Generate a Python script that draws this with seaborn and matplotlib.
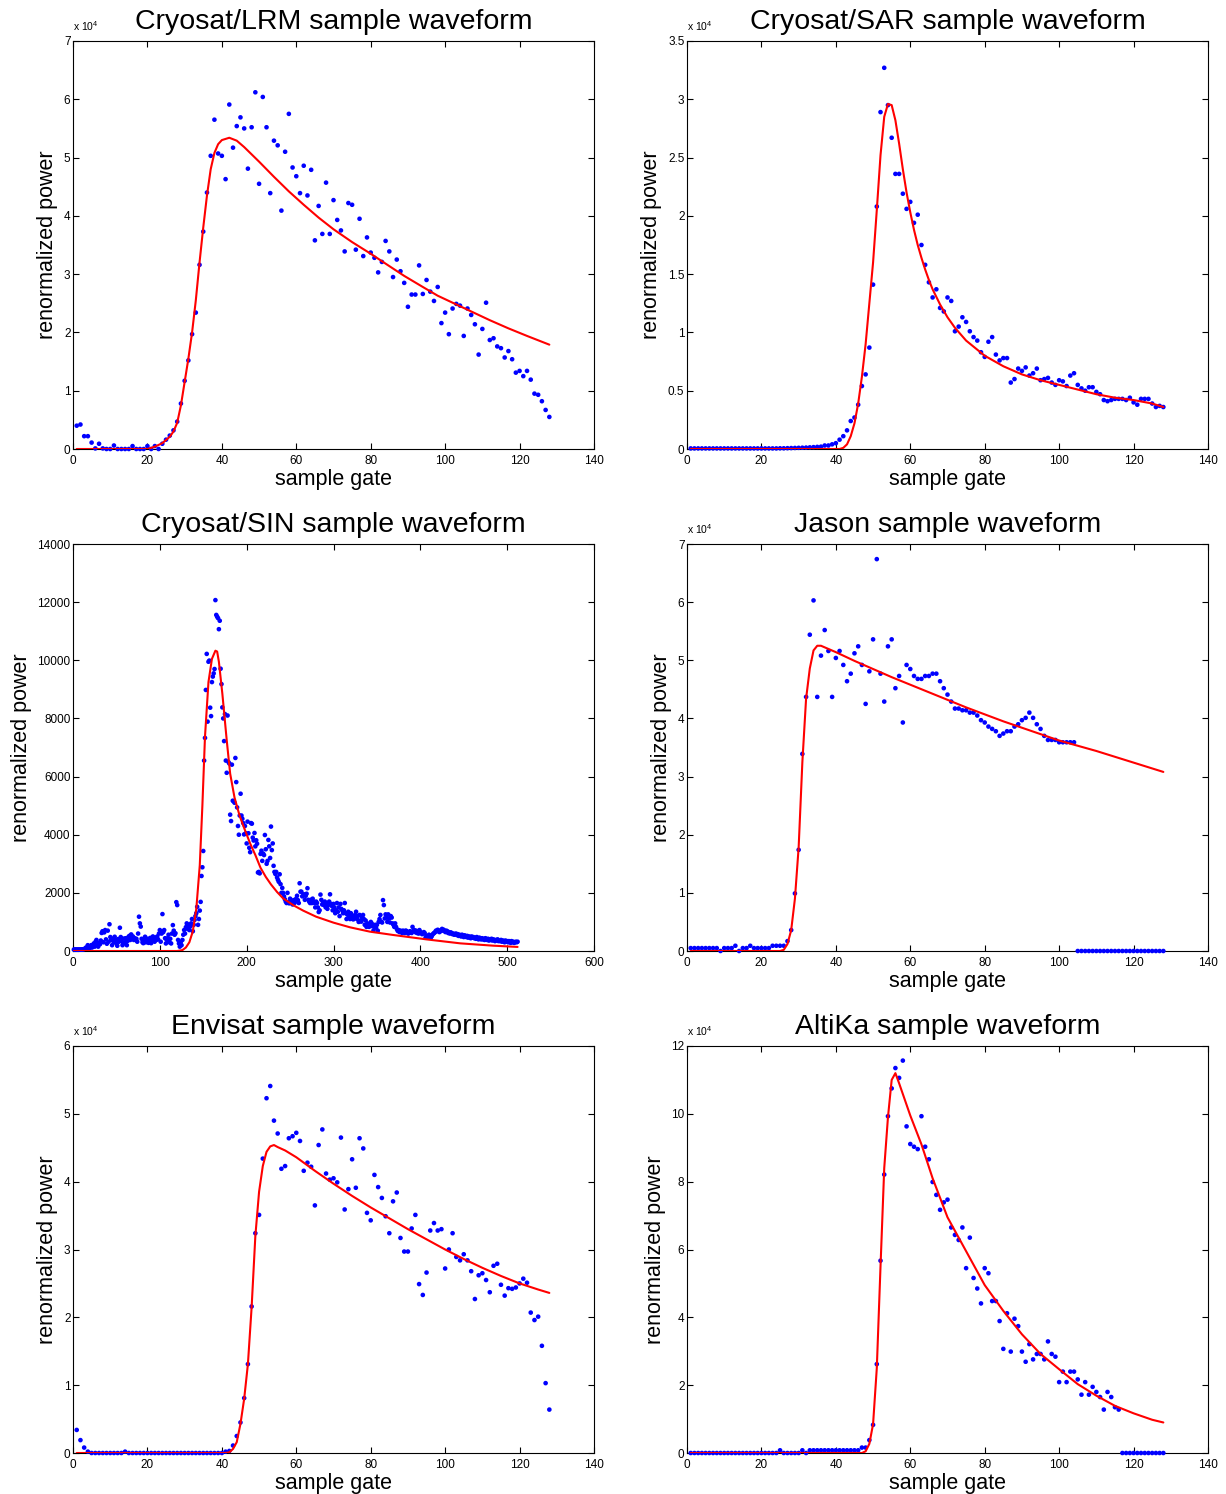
import numpy as np
import pandas as pd
import matplotlib
matplotlib.use("Agg")
import matplotlib.pyplot as plt
import seaborn as sns

# ---------------- data ----------------
gates_128 = list(range(1, 129))
gates_512 = list(range(1, 513))

# Cryosat/LRM (units of 1e4)
lrm_power = [
    0.40, 0.42, 0.22, 0.22, 0.11, 0.01, 0.09, 0.01, 0.00, 0.00, 0.06, 0.00, 0.00, 0.00, 0.00, 0.05,
    0.00, 0.00, 0.00, 0.05, 0.00, 0.05, 0.00, 0.09, 0.16, 0.23, 0.32, 0.47, 0.78, 1.17, 1.52, 1.97,
    2.34, 3.16, 3.73, 4.40, 5.03, 5.65, 5.07, 5.03, 4.63, 5.91, 5.17, 5.54, 5.69, 5.50, 4.81, 5.52,
    6.12, 4.55, 6.04, 5.52, 4.39, 5.29, 5.21, 4.09, 5.10, 5.75, 4.83, 4.68, 4.39, 4.86, 4.35, 4.79,
    3.58, 4.17, 3.69, 4.57, 3.69, 4.27, 3.93, 3.75, 3.39, 4.22, 4.19, 3.42, 3.95, 3.31, 3.63, 3.37,
    3.28, 3.03, 3.21, 3.57, 3.39, 2.95, 3.25, 3.05, 2.85, 2.44, 2.65, 2.65, 3.15, 2.66, 2.90, 2.70,
    2.54, 2.78, 2.16, 2.34, 1.97, 2.41, 2.49, 2.46, 1.94, 2.41, 2.30, 2.14, 1.62, 2.06, 2.51, 1.87,
    1.90, 1.76, 1.73, 1.57, 1.68, 1.54, 1.31, 1.34, 1.25, 1.34, 1.19, 0.95, 0.93, 0.82, 0.67, 0.55]
lrm_fit_gates = [1, 20, 22, 24, 26, 27, 28, 29, 30, 31, 32, 33, 34, 35, 36, 37, 38, 39, 40, 42,
                 44, 46, 50, 54, 58, 62, 66, 70, 75, 80, 84, 89, 94, 98, 103, 108, 112, 117, 122, 128]
lrm_fit_power = [0, 0, 0.04, 0.10, 0.21, 0.30, 0.45, 0.75, 1.15, 1.55, 2.00, 2.55, 3.20, 3.80, 4.35,
                 4.80, 5.08, 5.23, 5.30, 5.34, 5.29, 5.18, 4.93, 4.67, 4.42, 4.19, 3.97, 3.77, 3.55,
                 3.35, 3.18, 2.97, 2.78, 2.63, 2.48, 2.33, 2.21, 2.07, 1.94, 1.79]

# Cryosat/SAR (units of 1e4)
sar_power = [
    0.005, 0.005, 0.005, 0.005, 0.005, 0.005, 0.005, 0.005, 0.005, 0.005, 0.005, 0.005, 0.005, 0.005, 0.005, 0.005,
    0.005, 0.005, 0.005, 0.005, 0.005, 0.005, 0.005, 0.005, 0.006, 0.006, 0.007, 0.008, 0.009, 0.010, 0.011, 0.012,
    0.014, 0.016, 0.018, 0.02, 0.03, 0.03, 0.04, 0.05, 0.08, 0.11, 0.16, 0.24, 0.27, 0.38, 0.54, 0.64,
    0.87, 1.41, 2.08, 2.89, 3.27, 2.95, 2.67, 2.36, 2.36, 2.19, 2.06, 2.12, 1.94, 2.01, 1.75, 1.58,
    1.43, 1.30, 1.37, 1.21, 1.18, 1.30, 1.27, 1.01, 1.05, 1.13, 1.09, 1.01, 0.96, 0.93, 0.83, 0.79,
    0.92, 0.96, 0.81, 0.76, 0.78, 0.78, 0.57, 0.60, 0.69, 0.67, 0.70, 0.63, 0.65, 0.69, 0.59, 0.60,
    0.61, 0.57, 0.55, 0.59, 0.58, 0.54, 0.63, 0.65, 0.55, 0.52, 0.50, 0.53, 0.53, 0.49, 0.47, 0.42,
    0.41, 0.42, 0.43, 0.43, 0.43, 0.42, 0.44, 0.40, 0.38, 0.43, 0.43, 0.43, 0.39, 0.36, 0.37, 0.36]
sar_fit_gates = [1, 41, 42, 43, 44, 45, 46, 47, 48, 49, 50, 51, 52, 53, 54, 55, 56, 57, 58, 59, 60,
                 61, 62, 63, 64, 65, 66, 68, 70, 72, 75, 80, 85, 90, 95, 100, 105, 110, 115, 120, 125, 128]
sar_fit_power = [0, 0, 0.01, 0.04, 0.11, 0.22, 0.39, 0.62, 0.90, 1.25, 1.60, 2.05, 2.52, 2.85, 2.96,
                 2.95, 2.82, 2.62, 2.40, 2.20, 2.03, 1.88, 1.75, 1.64, 1.54, 1.45, 1.37, 1.24, 1.13,
                 1.04, 0.93, 0.80, 0.71, 0.64, 0.59, 0.55, 0.51, 0.47, 0.44, 0.42, 0.39, 0.36]

# Cryosat/SIN (raw units)
sin_power = [
    50, 50, 50, 50, 50, 50, 50, 50, 50, 50,
    60, 60, 70, 80, 120, 100, 200, 160, 90, 140,
    200, 120, 180, 260, 150, 320, 380, 200, 150, 280,
    230, 360, 620, 680, 300, 640, 720, 400, 250, 700,
    320, 920, 480, 380, 200, 420, 300, 490, 380, 260,
    180, 410, 320, 800, 480, 350, 200, 260, 430, 300,
    440, 200, 350, 490, 520, 380, 570, 450, 500, 380,
    440, 380, 420, 320, 600, 1180, 950, 840, 420, 300,
    270, 380, 490, 300, 340, 420, 280, 360, 450, 270,
    380, 500, 420, 320, 460, 380, 500, 400, 600, 720,
    320, 600, 1270, 650, 720, 440, 260, 380, 440, 560,
    300, 420, 260, 600, 890, 700, 560, 610, 1680, 1580,
    380, 260, 150, 300, 200, 380, 560, 720, 600, 820,
    950, 760, 900, 720, 840, 950, 1100, 680, 900, 1070,
    1200, 1300, 1520, 900, 1100, 1390, 1690, 2580, 2880, 3440,
    6550, 7330, 8980, 10220, 7890, 9950, 9990, 8370, 8080, 9250,
    9440, 9550, 9700, 12070, 11560, 11500, 11450, 11070, 11360, 9710,
    9180, 8380, 8000, 7220, 8150, 6550, 6130, 8100, 6500, 6450,
    4690, 4470, 6410, 5170, 5150, 5100, 6640, 5810, 4940, 4300,
    4000, 4660, 5410, 4660, 4550, 4400, 4010, 4300, 4050, 3700,
    4450, 4050, 3550, 3400, 4400, 4380, 3900, 3800, 4060, 3600,
    3810, 3690, 2700, 2720, 2670, 3340, 3450, 3100, 3350, 3300,
    3990, 3500, 3000, 3100, 3820, 3600, 3200, 4280, 3470, 3700,
    2930, 2720, 2650, 2720, 2530, 2450, 2380, 2640, 2300, 2000,
    2170, 2000, 1880, 1780, 1700, 1650, 2000, 1680, 1640, 1800,
    1700, 1640, 1600, 1750, 1650, 1700, 1800, 1900, 1750, 1650,
    2330, 2040, 2040, 1880, 1900, 1950, 1760, 1900, 1970, 2160,
    1760, 1700, 1650, 1760, 1650, 1800, 1700, 1650, 1500, 1700,
    1650, 1500, 1340, 1400, 1940, 1760, 1600, 1650, 1580, 1700,
    1500, 1620, 1450, 1580, 1700, 1950, 1620, 1550, 1400, 1620,
    1500, 1300, 1400, 1650, 1350, 1500, 1200, 1620, 1450, 1400,
    1300, 1400, 1650, 1300, 1100, 1250, 1350, 1200, 1100, 1300,
    1200, 1100, 1090, 1150, 1250, 1350, 1100, 1200, 1000, 1240,
    1050, 1010, 1150, 1240, 1100, 900, 1050, 830, 950, 900,
    830, 900, 1000, 950, 850, 700, 830, 900, 800, 900,
    700, 1000, 1100, 1240, 1010, 980, 1750, 1580, 1120, 1260,
    1150, 1000, 1260, 1120, 980, 1200, 1150, 950, 900, 830,
    950, 830, 750, 690, 720, 650, 700, 680, 620, 700,
    650, 620, 700, 690, 640, 600, 620, 680, 650, 620,
    830, 700, 720, 650, 700, 620, 680, 600, 720, 650,
    620, 580, 600, 650, 620, 460, 520, 480, 500, 560,
    520, 460, 500, 560, 600, 620, 650, 700, 680, 730,
    700, 650, 680, 720, 760, 700, 730, 680, 650, 700,
    680, 620, 650, 600, 640, 620, 580, 600, 560, 580,
    600, 550, 580, 520, 560, 540, 500, 560, 520, 480,
    540, 500, 480, 520, 460, 500, 480, 440, 500, 460,
    480, 440, 460, 420, 480, 440, 400, 460, 420, 400,
    440, 400, 420, 380, 440, 400, 380, 420, 360, 400,
    380, 420, 360, 400, 380, 340, 380, 360, 400, 340,
    360, 340, 380, 320, 360, 340, 300, 360, 320, 340,
    300, 340, 320, 280, 340, 300, 320, 280, 300, 320,
    300, 320]
sin_fit_gates = [1, 120, 126, 130, 134, 138, 142, 146, 149, 152, 156, 160, 164, 166, 168, 172, 177,
                 181, 186, 192, 198, 204, 210, 216, 222, 228, 235, 242, 254, 265, 280, 300, 319,
                 342, 369, 407, 446, 484, 512]
sin_fit_power = [0, 0, 30, 120, 300, 680, 1450, 2950, 5000, 7370, 9250, 10050, 10330, 10300, 9950,
                 8850, 7260, 6100, 5280, 4640, 4160, 3700, 3300, 2860, 2550, 2290, 2030, 1810, 1570,
                 1390, 1180, 975, 815, 665, 550, 400, 263, 183, 140]

# Jason (units of 1e4)
jason_power = [
    0.05, 0.05, 0.05, 0.05, 0.05, 0.05, 0.05, 0.05, 0.00, 0.05, 0.05, 0.05, 0.09, 0.00, 0.05, 0.05,
    0.09, 0.05, 0.05, 0.05, 0.05, 0.05, 0.09, 0.09, 0.09, 0.09, 0.17, 0.36, 0.99, 1.74, 3.39, 4.37,
    5.44, 6.03, 4.37, 5.08, 5.52, 5.16, 4.37, 5.04, 5.16, 4.92, 4.64, 4.77, 5.12, 5.24, 4.92, 4.25,
    4.81, 5.36, 6.74, 4.77, 4.29, 5.24, 5.36, 4.52, 4.73, 3.93, 4.92, 4.85, 4.73, 4.68, 4.68, 4.73,
    4.73, 4.77, 4.77, 4.64, 4.52, 4.41, 4.29, 4.17, 4.17, 4.14, 4.14, 4.10, 4.10, 4.05, 3.97, 3.93,
    3.86, 3.82, 3.78, 3.70, 3.74, 3.78, 3.78, 3.86, 3.90, 3.97, 4.01, 4.10, 4.01, 3.90, 3.82, 3.70,
    3.63, 3.63, 3.63, 3.59, 3.59, 3.59, 3.59, 3.59, 0, 0, 0, 0, 0, 0, 0, 0,
    0, 0, 0, 0, 0, 0, 0, 0, 0, 0, 0, 0, 0, 0, 0, 0]
jason_fit_gates = [1, 25, 26, 27, 28, 29, 30, 31, 32, 33, 34, 35, 36, 40, 45, 50, 55, 60, 65, 70, 75,
                   80, 85, 90, 95, 100, 105, 110, 115, 120, 125, 128]
jason_fit_power = [0, 0, 0.02, 0.12, 0.36, 0.90, 1.78, 3.25, 4.34, 4.86, 5.17, 5.25, 5.25, 5.14, 4.99,
                   4.85, 4.71, 4.58, 4.45, 4.32, 4.19, 4.07, 3.95, 3.84, 3.73, 3.62, 3.53, 3.44, 3.34,
                   3.24, 3.14, 3.08]

# Envisat (units of 1e4)
envisat_power = [
    0.34, 0.19, 0.08, 0.02, 0, 0, 0, 0, 0, 0, 0, 0, 0, 0.02, 0, 0,
    0, 0, 0, 0, 0, 0, 0, 0, 0, 0, 0, 0, 0, 0, 0, 0,
    0, 0, 0, 0, 0, 0, 0, 0, 0.02, 0.03, 0.11, 0.25, 0.45, 0.81, 1.31, 2.16,
    3.24, 3.51, 4.34, 5.23, 5.41, 4.90, 4.71, 4.19, 4.23, 4.64, 4.67, 4.72, 4.60, 4.16, 4.28, 4.22,
    3.65, 4.54, 4.77, 4.12, 4.03, 4.05, 3.99, 4.65, 3.59, 3.89, 4.33, 3.91, 4.64, 4.49, 3.54, 3.43,
    4.10, 3.92, 3.76, 3.49, 3.24, 3.71, 3.84, 3.17, 2.97, 2.97, 3.31, 3.51, 2.49, 2.33, 2.66, 3.28,
    3.39, 3.28, 3.30, 2.72, 3.00, 3.24, 2.89, 2.84, 2.93, 2.84, 2.68, 2.27, 2.62, 2.65, 2.55, 2.37,
    2.76, 2.79, 2.48, 2.32, 2.43, 2.42, 2.44, 2.50, 2.57, 2.51, 2.07, 1.96, 2.01, 1.58, 1.03, 0.64]
envisat_fit_gates = [1, 41, 42, 43, 44, 45, 46, 47, 48, 49, 50, 51, 52, 53, 54, 55, 57, 60, 65, 70,
                     75, 80, 85, 90, 95, 100, 105, 110, 115, 120, 125, 128]
envisat_fit_power = [0, 0, 0.01, 0.06, 0.16, 0.43, 0.80, 1.31, 2.15, 3.20, 3.85, 4.23, 4.44, 4.52,
                     4.54, 4.51, 4.46, 4.36, 4.16, 3.97, 3.79, 3.62, 3.46, 3.30, 3.15, 3.00, 2.86,
                     2.73, 2.61, 2.50, 2.41, 2.36]

# AltiKa (units of 1e4)
altika_power = [
    0, 0, 0, 0, 0, 0, 0, 0, 0, 0, 0, 0, 0, 0, 0, 0,
    0, 0, 0, 0, 0, 0, 0, 0, 0.08, 0, 0, 0, 0, 0, 0.08, 0,
    0.08, 0.08, 0.08, 0.08, 0.08, 0.08, 0.08, 0.08, 0.08, 0.08, 0.08, 0.08, 0.08, 0.08, 0.16, 0.16,
    0.38, 0.83, 2.62, 5.67, 8.21, 9.93, 10.75, 11.35, 11.06, 11.57, 9.63, 9.11, 9.03, 8.96, 9.93, 9.03,
    8.66, 7.99, 7.61, 7.17, 7.39, 7.47, 6.65, 6.43, 6.28, 6.65, 5.45, 6.35, 5.16, 4.85, 4.41, 5.45,
    5.30, 4.48, 4.48, 3.89, 3.07, 4.12, 2.99, 3.96, 3.74, 2.99, 2.69, 3.21, 2.76, 2.92, 2.92, 2.76,
    3.29, 2.92, 2.84, 2.09, 2.40, 2.09, 2.40, 2.40, 2.17, 1.72, 2.09, 1.72, 1.95, 1.80, 1.65, 1.28,
    1.80, 1.65, 1.35, 1.28, 0, 0, 0, 0, 0, 0, 0, 0, 0, 0, 0, 0]
altika_fit_gates = [1, 47, 48, 49, 50, 51, 52, 53, 54, 55, 56, 57, 60, 63, 66, 70, 75, 80, 85, 90,
                    95, 100, 105, 110, 115, 120, 125, 128]
altika_fit_power = [0, 0, 0.05, 0.27, 0.85, 2.50, 5.50, 8.40, 9.90, 11.00, 11.20, 10.90, 9.95, 9.10,
                    8.10, 6.95, 5.95, 4.95, 4.19, 3.50, 2.92, 2.47, 2.03, 1.69, 1.39, 1.17, 0.98, 0.90]

titles = ["Cryosat/LRM sample waveform", "Cryosat/SAR sample waveform",
          "Cryosat/SIN sample waveform", "Jason sample waveform",
          "Envisat sample waveform", "AltiKa sample waveform"]
xtick_128 = [0, 20, 40, 60, 80, 100, 120, 140]
xtick_512 = [0, 100, 200, 300, 400, 500, 600]

# ---------------- style ----------------
sns.set_theme(style="white")
plt.rcParams.update({
    'font.family': ['Liberation Sans', 'DejaVu Sans'],
    'mathtext.default': 'regular',
    'axes.edgecolor': 'black',
    'axes.linewidth': 0.8,
    'axes.facecolor': 'white',
    'figure.facecolor': 'white',
    'xtick.direction': 'in', 'ytick.direction': 'in',
    'xtick.top': True, 'ytick.right': True,
    'xtick.bottom': True, 'ytick.left': True,
    'xtick.major.size': 4, 'ytick.major.size': 4,
    'xtick.major.width': 0.8, 'ytick.major.width': 0.8,
    'xtick.color': 'black', 'ytick.color': 'black',
    'xtick.labelsize': 8.5, 'ytick.labelsize': 8.5,
    'xtick.major.pad': 4, 'ytick.major.pad': 1.8,
    'axes.labelcolor': 'black', 'text.color': 'black',
})

W, H = 1226, 1494
fig = plt.figure(figsize=(W / 100, H / 100), dpi=100)

col_left = [73, 687]
col_w = 521
rows = [(41, 449), (544, 951), (1046, 1453)]


def make_ax(r, c):
    top, bot = rows[r]
    return fig.add_axes([col_left[c] / W, 1 - bot / H, col_w / W, (bot - top) / H])


def fmt(v):
    return f"{v:g}"


panels = [
    (0, 0, gates_128, lrm_power, lrm_fit_gates, lrm_fit_power, titles[0], 140, xtick_128,
     [0, 1, 2, 3, 4, 5, 6, 7], True),
    (0, 1, gates_128, sar_power, sar_fit_gates, sar_fit_power, titles[1], 140, xtick_128,
     [0, 0.5, 1, 1.5, 2, 2.5, 3, 3.5], True),
    (1, 0, gates_512, sin_power, sin_fit_gates, sin_fit_power, titles[2], 600, xtick_512,
     [0, 2000, 4000, 6000, 8000, 10000, 12000, 14000], False),
    (1, 1, gates_128, jason_power, jason_fit_gates, jason_fit_power, titles[3], 140, xtick_128,
     [0, 1, 2, 3, 4, 5, 6, 7], True),
    (2, 0, gates_128, envisat_power, envisat_fit_gates, envisat_fit_power, titles[4], 140, xtick_128,
     [0, 1, 2, 3, 4, 5, 6], True),
    (2, 1, gates_128, altika_power, altika_fit_gates, altika_fit_power, titles[5], 140, xtick_128,
     [0, 2, 4, 6, 8, 10, 12], True),
]

for (r, c, g, p, fg, fp, title, xmax, xt, yt, sci) in panels:
    ax = make_ax(r, c)
    sns.scatterplot(x=g, y=p, ax=ax, color=(0, 0, 1), s=11, linewidth=0,
                    edgecolor='none', zorder=3, clip_on=False)
    sns.lineplot(x=fg, y=fp, ax=ax, color=(1, 0, 0), linewidth=1.5, zorder=4)
    ax.set_xlim(0, xmax)
    ax.set_ylim(yt[0], yt[-1])
    ax.set_xticks(xt)
    ax.set_xticklabels([fmt(v) for v in xt])
    ax.set_yticks(yt)
    ax.set_yticklabels([fmt(v) for v in yt])
    ax.minorticks_off()
    for s in ax.spines.values():
        s.set_visible(True)
        s.set_color('black')
        s.set_linewidth(0.8)
    ax.set_title(title, fontsize=20.5, pad=8.5)
    ax.set_xlabel('sample gate', fontsize=15.5, labelpad=2)
    ax.set_ylabel('renormalized power', fontsize=15.5, labelpad=4)
    if sci:
        ax.text(0.0, 1.024, r'x 10$^4$', transform=ax.transAxes, fontsize=7.5,
                ha='left', va='baseline')

fig.savefig('out.png', dpi=100)
